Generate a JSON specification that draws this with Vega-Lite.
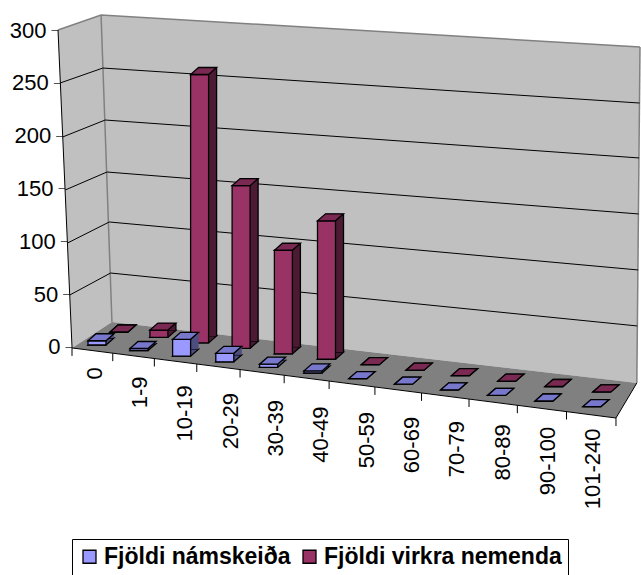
{
"$schema":"https://vega.github.io/schema/vega-lite/v6.json",
"width":582,"height":403,
"autosize":"none",
"padding":{"left":58,"top":15,"right":1,"bottom":157},
"background":"white",
"params":[{"name":"cats","value":["0","1-9","10-19","20-29","30-39","40-49","50-59","60-69","70-79","80-89","90-100","101-240"]}],
"config":{"view":{"stroke":null},"font":"Liberation Sans","axis":{"labelFont":"Liberation Sans","labelColor":"#000000"}},
"datasets":{
"rows":[
{"cat":"0","series":"Fjöldi námskeiða","value":4},{"cat":"1-9","series":"Fjöldi námskeiða","value":2},{"cat":"10-19","series":"Fjöldi námskeiða","value":16},{"cat":"20-29","series":"Fjöldi námskeiða","value":8},{"cat":"30-39","series":"Fjöldi námskeiða","value":3},{"cat":"40-49","series":"Fjöldi námskeiða","value":2},{"cat":"50-59","series":"Fjöldi námskeiða","value":0},{"cat":"60-69","series":"Fjöldi námskeiða","value":0},{"cat":"70-79","series":"Fjöldi námskeiða","value":0},{"cat":"80-89","series":"Fjöldi námskeiða","value":0},{"cat":"90-100","series":"Fjöldi námskeiða","value":0},{"cat":"101-240","series":"Fjöldi námskeiða","value":0},
{"cat":"0","series":"Fjöldi virkra nemenda","value":0},{"cat":"1-9","series":"Fjöldi virkra nemenda","value":7},{"cat":"10-19","series":"Fjöldi virkra nemenda","value":254},{"cat":"20-29","series":"Fjöldi virkra nemenda","value":154},{"cat":"30-39","series":"Fjöldi virkra nemenda","value":98},{"cat":"40-49","series":"Fjöldi virkra nemenda","value":131},{"cat":"50-59","series":"Fjöldi virkra nemenda","value":0},{"cat":"60-69","series":"Fjöldi virkra nemenda","value":0},{"cat":"70-79","series":"Fjöldi virkra nemenda","value":0},{"cat":"80-89","series":"Fjöldi virkra nemenda","value":0},{"cat":"90-100","series":"Fjöldi virkra nemenda","value":0},{"cat":"101-240","series":"Fjöldi virkra nemenda","value":0}
],
"walls":[
{"w":"back","u":0.64,"a":314.2,"b":314.2},{"w":"back","u":0.88,"a":313.6,"b":23.7},{"w":"back","u":12.46,"a":284.1,"b":-34.1},{"w":"back","u":12.53,"a":283.9,"b":283.9},
{"w":"left","u":-0.31,"a":300,"b":300},{"w":"left","u":0,"a":304.6,"b":-0.9},{"w":"left","u":0.64,"a":314.2,"b":17},{"w":"left","u":0.88,"a":23.7,"b":23.7},
{"w":"floor","u":0,"a":-0.9,"b":-0.9},{"w":"floor","u":0.88,"a":23.7,"b":-5.7},{"w":"floor","u":12,"a":-31.8,"b":-67.2},{"w":"floor","u":12.46,"a":-34.1,"b":-34.1}
],
"lines":[
{"k":"grid","g":"250","u":-0.26,"v":249.9},{"k":"grid","g":"250","u":0.68,"v":264},{"k":"grid","g":"250","u":12.52,"v":230.9},
{"k":"grid","g":"200","u":-0.21,"v":198.7},{"k":"grid","g":"200","u":0.73,"v":214.8},{"k":"grid","g":"200","u":12.51,"v":178.9},
{"k":"grid","g":"150","u":-0.15,"v":148.6},{"k":"grid","g":"150","u":0.77,"v":165.6},{"k":"grid","g":"150","u":12.5,"v":125.9},
{"k":"grid","g":"100","u":-0.1,"v":98.4},{"k":"grid","g":"100","u":0.82,"v":118.3},{"k":"grid","g":"100","u":12.49,"v":72.9},
{"k":"grid","g":"50","u":-0.05,"v":49.2},{"k":"grid","g":"50","u":0.85,"v":70},{"k":"grid","g":"50","u":12.47,"v":19.9},
{"k":"gray","g":"top","u":-0.31,"v":300},{"k":"gray","g":"top","u":0.64,"v":314.2},{"k":"gray","g":"top","u":12.53,"v":283.9},
{"k":"gray","g":"corner","u":0.64,"v":314.2},{"k":"gray","g":"corner","u":0.88,"v":23.7},
{"k":"gray","g":"right","u":12.53,"v":283.9},{"k":"gray","g":"right","u":12.46,"v":-34.1},
{"k":"grid","g":"front","u":-0.31,"v":300},{"k":"grid","g":"front","u":0,"v":-0.9},
{"k":"grid","g":"floorfront","u":0,"v":-0.9},{"k":"grid","g":"floorfront","u":12,"v":-67.2},{"k":"grid","g":"floorfront","u":12.46,"v":-34.1},
{"k":"grid","g":"endtick","u":12,"v":-67.2},{"k":"grid","g":"endtick","u":12,"v":-74.8}
]
},
"resolve":{"scale":{"x":"independent"},"axis":{"x":"independent"}},
"layer":[
{"data":{"name":"walls"},"transform":[{"filter":"datum.w=='back'"}],"mark":{"type":"area","fill":"#C0C0C0"},
 "encoding":{"x":{"field":"u","type":"quantitative","scale":{"domain":[-0.31,12.53],"nice":false,"zero":false},"axis":null},
 "y":{"field":"a","type":"quantitative","scale":{"domain":[-67.2,314.2],"nice":false,"zero":false},
   "axis":{"title":null,"values":[0,50,100,150,200,250,300],"domain":false,"grid":false,"tickColor":"#555555","tickSize":7,"labelPadding":5,"labelFontSize":22,"labelBound":false,
   "encoding":{"ticks":{"x":{"value":{"expr":"(300-datum.value)*0.0467"}},"x2":{"value":{"expr":"(300-datum.value)*0.0467-7"}}},"labels":{"dx":{"value":{"expr":"(300-datum.value)*0.0467"}}}}}},
 "y2":{"field":"b"}}},
{"data":{"name":"walls"},"transform":[{"filter":"datum.w=='left'"}],"mark":{"type":"area","fill":"#C0C0C0"},
 "encoding":{"x":{"field":"u","type":"quantitative","scale":{"domain":[-0.31,12.53],"nice":false,"zero":false},"axis":null},"y":{"field":"a","type":"quantitative"},"y2":{"field":"b"}}},
{"data":{"name":"walls"},"transform":[{"filter":"datum.w=='floor'"}],"mark":{"type":"area","fill":"#808080"},
 "encoding":{"x":{"field":"u","type":"quantitative","scale":{"domain":[-0.31,12.53],"nice":false,"zero":false},"axis":null},"y":{"field":"a","type":"quantitative"},"y2":{"field":"b"}}},
{"data":{"name":"lines"},"transform":[{"filter":"datum.k=='gray'"}],"mark":{"type":"line","stroke":"#808080","strokeWidth":1.5},
 "encoding":{"x":{"field":"u","type":"quantitative","scale":{"domain":[-0.31,12.53],"nice":false,"zero":false},"axis":null},"y":{"field":"v","type":"quantitative"},"detail":{"field":"g"},"order":{"field":"u"}}},
{"data":{"name":"lines"},"transform":[{"filter":"datum.k=='grid'"}],"mark":{"type":"line","stroke":"#000000","strokeWidth":1},
 "encoding":{"x":{"field":"u","type":"quantitative","scale":{"domain":[-0.31,12.53],"nice":false,"zero":false},"axis":null},"y":{"field":"v","type":"quantitative"},"detail":{"field":"g"}}},
{"data":{"name":"rows"},"transform":[{"filter":"datum.series=='Fjöldi námskeiða'"}],"mark":{"type":"rule","stroke":"#000000","strokeWidth":1,"xOffset":{"expr":"-5*indexof(cats,datum.cat)+0.42*pow(indexof(cats,datum.cat),2)"},"yOffset":{"expr":"1+5.19*indexof(cats,datum.cat)+0.054*pow(indexof(cats,datum.cat),2)"},"y2Offset":{"expr":"1+5.19*indexof(cats,datum.cat)+0.054*pow(indexof(cats,datum.cat),2)"}},
 "encoding":{"x":{"field":"cat","type":"nominal","sort":null,"bandPosition":0,"scale":{"type":"band","range":[14,558],"paddingInner":0,"paddingOuter":0},"axis":null},"y":{"datum":0},"y2":{"datum":-7.5}}},
{"data":{"name":"rows"},"transform":[{"filter":"datum.series=='Fjöldi námskeiða'"}],"mark":{"type":"point","opacity":0},
 "encoding":{"x":{"field":"cat","type":"nominal","sort":null,"scale":{"type":"band","range":[14,558],"paddingInner":0,"paddingOuter":0},
   "axis":{"title":null,"domain":false,"ticks":false,"zindex":1,"labelAngle":270,"labelAlign":"right","labelBaseline":"middle","labelFontSize":22,"labelOverlap":false,"labelBound":false,"labelFlush":false,
   "encoding":{"labels":{"y":{"value":{"expr":"-56+63*datum.index"}},"dx":{"value":{"expr":"-4.67-4.03*indexof(cats,datum.value)+0.38*pow(indexof(cats,datum.value),2)"}}}}}},
 "y":{"datum":0}}},

{"data":{"name":"rows"},"transform":[{"filter":"datum.series=='Fjöldi virkra nemenda'"}],"mark":{"type":"point","filled":true,"fill":"#4D1A33","stroke":"#000000","strokeWidth":1.3,"opacity":1,"size":400,"shape":"M-0.9,0 L0.9,0 L1.7,-0.7 L-0.1,-0.7 Z","xOffset":{"expr":"-4.7*indexof(cats,datum.cat)+0.4*pow(indexof(cats,datum.cat),2)"},"yOffset":{"expr":"-15+5.45*indexof(cats,datum.cat)"}},
 "encoding":{"x":{"field":"cat","type":"nominal","sort":null,"scale":{"type":"band","range":[38.9,569.3],"paddingInner":0,"paddingOuter":0},"axis":null},"y":{"datum":0}}},
{"data":{"name":"rows"},"transform":[{"filter":"datum.series=='Fjöldi virkra nemenda'"}],"mark":{"type":"bar","fill":"#4D1A33","size":18,"xOffset":{"expr":"8-4.7*indexof(cats,datum.cat)+0.4*pow(indexof(cats,datum.cat),2)"},"yOffset":{"expr":"-22+5.45*indexof(cats,datum.cat)"},"y2Offset":{"expr":"-22+5.45*indexof(cats,datum.cat)"}},
 "encoding":{"x":{"field":"cat","type":"nominal","sort":null,"scale":{"type":"band","range":[38.9,569.3],"paddingInner":0,"paddingOuter":0},"axis":null},"y":{"field":"value","type":"quantitative"},"y2":{"datum":0}}},
{"data":{"name":"rows"},"transform":[{"filter":"datum.series=='Fjöldi virkra nemenda'"}],"mark":{"type":"bar","fill":"#000000","size":1.3,"xOffset":{"expr":"17-4.7*indexof(cats,datum.cat)+0.4*pow(indexof(cats,datum.cat),2)"},"yOffset":{"expr":"-22+5.45*indexof(cats,datum.cat)"},"y2Offset":{"expr":"-22+5.45*indexof(cats,datum.cat)"}},
 "encoding":{"x":{"field":"cat","type":"nominal","sort":null,"scale":{"type":"band","range":[38.9,569.3],"paddingInner":0,"paddingOuter":0},"axis":null},"y":{"field":"value","type":"quantitative"},"y2":{"datum":0}}},
{"data":{"name":"rows"},"transform":[{"filter":"datum.series=='Fjöldi virkra nemenda'"}],"mark":{"type":"bar","size":18,"stroke":"#000000","strokeWidth":1.3,"xOffset":{"expr":"-4.7*indexof(cats,datum.cat)+0.4*pow(indexof(cats,datum.cat),2)"},"yOffset":{"expr":"-15+5.45*indexof(cats,datum.cat)"},"y2Offset":{"expr":"-15+5.45*indexof(cats,datum.cat)"}},
 "encoding":{"x":{"field":"cat","type":"nominal","sort":null,"scale":{"type":"band","range":[38.9,569.3],"paddingInner":0,"paddingOuter":0},"axis":null},"y":{"field":"value","type":"quantitative"},"y2":{"datum":0},
 "color":{"field":"series","type":"nominal","scale":{"domain":["Fjöldi námskeiða","Fjöldi virkra nemenda"],"range":["#9999FF","#993366"]},
  "legend":{"title":null,"orient":"none","legendX":14,"legendY":524,"direction":"horizontal","columns":2,"strokeColor":"#000000","fillColor":"#FFFFFF","padding":6,"labelFont":"Liberation Sans","labelFontWeight":"bold","labelFontSize":23,"labelOffset":3,"labelColor":"#000000","symbolType":"square","symbolSize":169,"symbolStrokeColor":"#000000","symbolStrokeWidth":1.3,"columnPadding":7,"labelLimit":300}}}},
{"data":{"name":"rows"},"transform":[{"filter":"datum.series=='Fjöldi virkra nemenda'"}],"mark":{"type":"point","filled":true,"fill":"#7A2952","stroke":"#000000","strokeWidth":1.3,"opacity":1,"size":400,"shape":"M-0.9,0 L0.9,0 L1.7,-0.7 L-0.1,-0.7 Z","xOffset":{"expr":"-4.7*indexof(cats,datum.cat)+0.4*pow(indexof(cats,datum.cat),2)"},"yOffset":{"expr":"-15+5.45*indexof(cats,datum.cat)"}},
 "encoding":{"x":{"field":"cat","type":"nominal","sort":null,"scale":{"type":"band","range":[38.9,569.3],"paddingInner":0,"paddingOuter":0},"axis":null},"y":{"field":"value","type":"quantitative"}}},

{"data":{"name":"rows"},"transform":[{"filter":"datum.series=='Fjöldi námskeiða'"}],"mark":{"type":"point","filled":true,"fill":"#4D4D80","stroke":"#000000","strokeWidth":1.3,"opacity":1,"size":400,"shape":"M-0.9,0 L0.9,0 L1.7,-0.7 L-0.1,-0.7 Z","xOffset":{"expr":"0.5-3.3*indexof(cats,datum.cat)+0.3*pow(indexof(cats,datum.cat),2)"},"yOffset":{"expr":"-2+5.6*indexof(cats,datum.cat)"}},
 "encoding":{"x":{"field":"cat","type":"nominal","sort":null,"scale":{"type":"band","range":[16,556],"paddingInner":0,"paddingOuter":0},"axis":null},"y":{"datum":0}}},
{"data":{"name":"rows"},"transform":[{"filter":"datum.series=='Fjöldi námskeiða'"}],"mark":{"type":"bar","fill":"#4D4D80","size":18,"xOffset":{"expr":"8.5-3.3*indexof(cats,datum.cat)+0.3*pow(indexof(cats,datum.cat),2)"},"yOffset":{"expr":"-9+5.6*indexof(cats,datum.cat)"},"y2Offset":{"expr":"-9+5.6*indexof(cats,datum.cat)"}},
 "encoding":{"x":{"field":"cat","type":"nominal","sort":null,"scale":{"type":"band","range":[16,556],"paddingInner":0,"paddingOuter":0},"axis":null},"y":{"field":"value","type":"quantitative"},"y2":{"datum":0}}},
{"data":{"name":"rows"},"transform":[{"filter":"datum.series=='Fjöldi námskeiða'"}],"mark":{"type":"bar","size":18,"stroke":"#000000","strokeWidth":1.3,"xOffset":{"expr":"0.5-3.3*indexof(cats,datum.cat)+0.3*pow(indexof(cats,datum.cat),2)"},"yOffset":{"expr":"-2+5.6*indexof(cats,datum.cat)"},"y2Offset":{"expr":"-2+5.6*indexof(cats,datum.cat)"}},
 "encoding":{"x":{"field":"cat","type":"nominal","sort":null,"scale":{"type":"band","range":[16,556],"paddingInner":0,"paddingOuter":0},"axis":null},"y":{"field":"value","type":"quantitative"},"y2":{"datum":0},
 "color":{"field":"series","type":"nominal","scale":{"domain":["Fjöldi námskeiða","Fjöldi virkra nemenda"],"range":["#9999FF","#993366"]}}}},
{"data":{"name":"rows"},"transform":[{"filter":"datum.series=='Fjöldi námskeiða'"}],"mark":{"type":"point","filled":true,"fill":"#7777CC","stroke":"#000000","strokeWidth":1.3,"opacity":1,"size":400,"shape":"M-0.9,0 L0.9,0 L1.7,-0.7 L-0.1,-0.7 Z","xOffset":{"expr":"0.5-3.3*indexof(cats,datum.cat)+0.3*pow(indexof(cats,datum.cat),2)"},"yOffset":{"expr":"-2+5.6*indexof(cats,datum.cat)"}},
 "encoding":{"x":{"field":"cat","type":"nominal","sort":null,"scale":{"type":"band","range":[16,556],"paddingInner":0,"paddingOuter":0},"axis":null},"y":{"field":"value","type":"quantitative"}}}
]
}
